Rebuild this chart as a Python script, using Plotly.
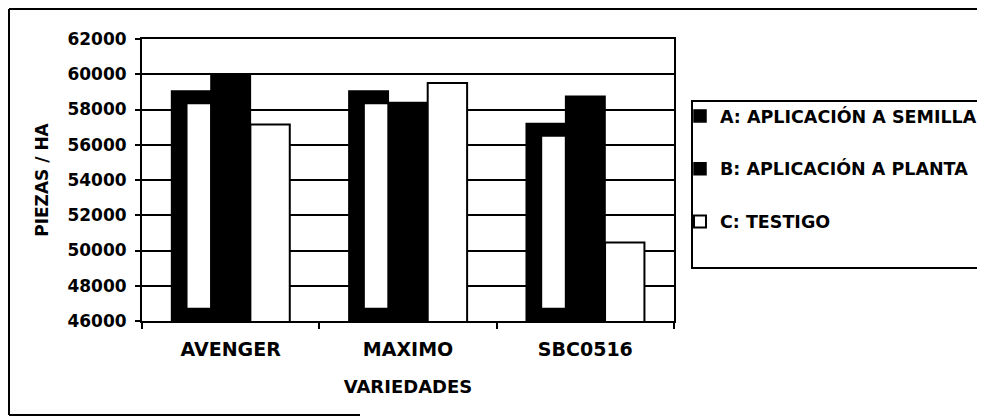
import plotly.graph_objects as go

categories = ["AVENGER", "MAXIMO", "SBC0516"]
serie_a = [59050, 59050, 57200]
serie_b = [59950, 58400, 58750]
serie_c = [57150, 59500, 50450]
y_ticks = [46000, 48000, 50000, 52000, 54000, 56000, 58000, 60000, 62000]
names = ["A: APLICACIÓN A SEMILLA", "B: APLICACIÓN A PLANTA", "C: TESTIGO"]

FONT = "DejaVu Sans, Liberation Sans, Arial, sans-serif"
BW = 0.2222

fig = go.Figure()
fig.add_trace(go.Bar(x=categories, y=serie_a, name=names[0], offset=-0.3333, width=BW,
                     marker=dict(color="black", line=dict(color="black", width=1.5)),
                     legendgroup="a"))
# lighter inner part of series A (scanned gradient look)
inner_base = 46750
fig.add_trace(go.Bar(x=categories, y=[v - 750 - inner_base for v in serie_a], base=inner_base,
                     offset=-0.3333 + 0.09, width=BW - 0.094,
                     marker=dict(color="white", line=dict(width=0)),
                     showlegend=False, hoverinfo="skip"))
fig.add_trace(go.Bar(x=categories, y=serie_b, name=names[1], offset=-0.1111, width=BW,
                     marker=dict(color="black", line=dict(color="black", width=1.5)),
                     legendgroup="b"))
fig.add_trace(go.Bar(x=categories, y=serie_c, name=names[2], offset=0.1111, width=BW,
                     marker=dict(color="white", line=dict(color="black", width=2)),
                     legendgroup="c"))

# helpers converting screenshot pixels to paper coordinates (plot area 142..674, 39..321)
def px_x(p):
    return (p - 142) / 532.0

def px_y(p):
    return (321 - p) / 282.0

shapes = [
    # outer chart frame (partial, as scanned)
    dict(type="line", xref="paper", yref="paper", x0=px_x(9), x1=px_x(1000), y0=px_y(9), y1=px_y(9),
         line=dict(color="black", width=2)),
    dict(type="line", xref="paper", yref="paper", x0=px_x(9), x1=px_x(9), y0=px_y(9), y1=px_y(415),
         line=dict(color="black", width=2)),
    dict(type="line", xref="paper", yref="paper", x0=px_x(9), x1=px_x(360), y0=px_y(415), y1=px_y(415),
         line=dict(color="black", width=2)),
    # legend box
    dict(type="rect", xref="paper", yref="paper", x0=px_x(692), x1=px_x(1010), y0=px_y(268), y1=px_y(101),
         line=dict(color="black", width=2), fillcolor="rgba(0,0,0,0)"),
]

fig.update_layout(
    width=985, height=420,
    margin=dict(l=134, r=319, t=31, b=107, autoexpand=False),
    paper_bgcolor="white", plot_bgcolor="white",
    barmode="overlay",
    font=dict(family=FONT, size=17, color="black", weight="bold"),
    showlegend=True,
    legend=dict(x=px_x(680), y=px_y(98), xanchor="left", yanchor="top",
                bgcolor="rgba(0,0,0,0)", borderwidth=0,
                traceorder="grouped", tracegroupgap=27,
                font=dict(family=FONT, size=17.5, color="black", weight="bold"),
                itemwidth=30),
    shapes=shapes,
)
fig.update_xaxes(
    type="category", range=[-0.5, 2.5],
    showline=True, linecolor="black", linewidth=2, mirror=True,
    ticks="outside", tickson="boundaries", ticklen=6, tickwidth=1.5, tickcolor="black",
    ticklabelstandoff=10,
    showgrid=False,
    tickfont=dict(family=FONT, size=19, color="black", weight="bold"),
    title=dict(text="VARIEDADES", font=dict(family=FONT, size=18, color="black", weight="bold"), standoff=22),
)
fig.update_yaxes(
    range=[46000, 62000], tickvals=y_ticks, ticktext=[str(v) for v in y_ticks],
    showline=True, linecolor="black", linewidth=2, mirror=True,
    ticks="outside", ticklen=5, tickwidth=1.5, tickcolor="black",
    ticklabelstandoff=5,
    showgrid=True, gridcolor="black", gridwidth=1.5, zeroline=False,
    tickfont=dict(family=FONT, size=17, color="black", weight="bold"),
    title=dict(text="PIEZAS / HA", font=dict(family=FONT, size=17, color="black", weight="bold"), standoff=14),
)

fig.write_html("out.html")
